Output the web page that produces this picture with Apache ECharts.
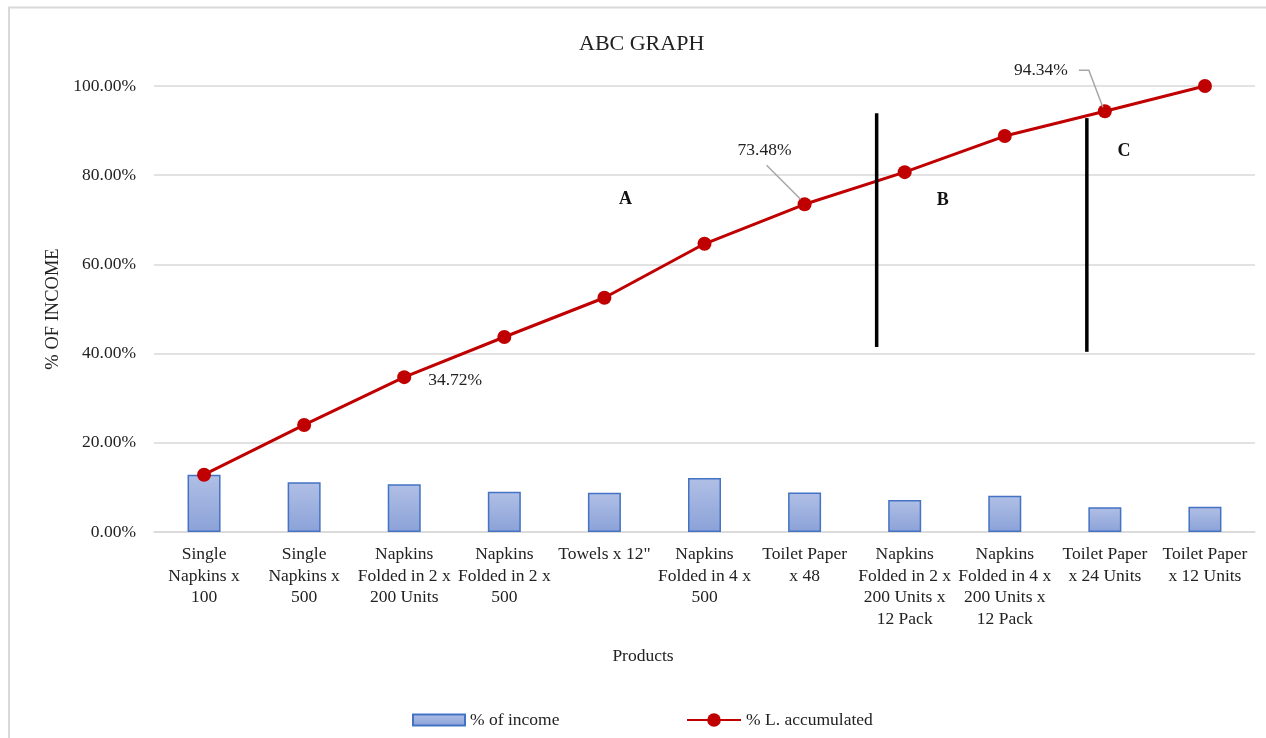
<!DOCTYPE html>
<html>
<head>
<meta charset="utf-8">
<style>
  html, body { margin: 0; padding: 0; background: #ffffff; }
  #chart { width: 1266px; height: 738px; }
</style>
<script src="https://cdn.jsdelivr.net/npm/echarts@6/dist/echarts.min.js"></script>
</head>
<body>
<div id="chart"></div>
<script>
// Product categories (ABC classification of income)
const products = [
  'Single\nNapkins x\n100',
  'Single\nNapkins x\n500',
  'Napkins\nFolded in 2 x\n200 Units',
  'Napkins\nFolded in 2 x\n500',
  'Towels x 12"',
  'Napkins\nFolded in 4 x\n500',
  'Toilet Paper\nx 48',
  'Napkins\nFolded in 2 x\n200 Units x\n12 Pack',
  'Napkins\nFolded in 4 x\n200 Units x\n12 Pack',
  'Toilet Paper\nx 24 Units',
  'Toilet Paper\nx 12 Units'
];

// Share of income per product (%)
const incomeShare = [12.85, 11.15, 10.72, 9.00, 8.80, 12.10, 8.86, 7.20, 8.10, 5.56, 5.66];

// Accumulated share (%)
const accumulated = [12.85, 24.00, 34.72, 43.72, 52.52, 64.62, 73.48, 80.68, 88.78, 94.34, 100.00];

// Points whose value is written on the chart
const labelledPoints = [2, 6, 9];

// Class boundaries: category position and vertical extent (% on the value axis)
const boundaries = [
  { pos: 6.72, from: 41.5, to: 93.9 },
  { pos: 8.82, from: 40.4, to: 92.8 }
];

// Class letters: category position and height (%)
const classLabels = [
  { text: 'A', pos: 4.21, val: 74.6 },
  { text: 'B', pos: 7.38, val: 74.4 },
  { text: 'C', pos: 9.19, val: 85.3 }
];

const serif = '"Liberation Serif", "DejaVu Serif", serif';
const fmt = v => v.toFixed(2) + '%';
const FS = 17.5;

const chart = echarts.init(document.getElementById('chart'), null, { renderer: 'canvas' });

const legendText = { fontFamily: serif, fontSize: FS, color: '#222' };

chart.setOption({
  backgroundColor: '#ffffff',
  animation: false,
  textStyle: { fontFamily: serif, color: '#222' },
  title: {
    text: 'ABC GRAPH',
    left: 574,
    top: 28,
    textStyle: { fontFamily: serif, fontSize: 22, fontWeight: 'normal', color: '#222' }
  },
  grid: { left: 154, right: 11, top: 86, bottom: 206 },
  legend: [
    {
      left: 407,
      top: 706,
      itemWidth: 52,
      itemHeight: 11,
      itemGap: 6,
      textStyle: legendText,
      data: [{ name: '% of income', icon: 'rect' }]
    },
    {
      left: 681,
      top: 706,
      itemWidth: 54,
      itemHeight: 17,
      textStyle: legendText,
      data: ['% L. accumulated']
    }
  ],
  xAxis: {
    type: 'category',
    data: products,
    axisLine: { lineStyle: { color: '#d9d9d9', width: 1.5 } },
    axisTick: { show: false },
    axisLabel: {
      interval: 0,
      margin: 12,
      fontFamily: serif,
      fontSize: FS,
      lineHeight: 21.5,
      color: '#222'
    }
  },
  yAxis: {
    type: 'value',
    min: 0,
    max: 100,
    interval: 20,
    name: '% OF INCOME',
    nameLocation: 'middle',
    nameGap: 80,
    nameRotate: 90,
    nameTextStyle: { fontFamily: serif, fontSize: 18.5, color: '#222' },
    axisLine: { show: false },
    axisTick: { show: false },
    splitLine: { lineStyle: { color: '#d9d9d9', width: 1.5 } },
    axisLabel: {
      formatter: v => fmt(v),
      margin: 18,
      fontFamily: serif,
      fontSize: FS,
      color: '#222'
    }
  },
  series: [
    {
      name: '% of income',
      type: 'bar',
      data: incomeShare,
      barWidth: 33,
      itemStyle: {
        color: new echarts.graphic.LinearGradient(0, 0, 0, 1, [
          { offset: 0, color: '#b0bfe5' },
          { offset: 1, color: '#8ba2d8' }
        ]),
        borderColor: '#4472c4',
        borderWidth: 1.5
      },
      z: 2
    },
    {
      name: '% L. accumulated',
      type: 'line',
      data: accumulated.map((v, i) => {
        const item = { value: v };
        if (labelledPoints.includes(i)) {
          item.label = {
            show: true,
            formatter: fmt(v),
            fontFamily: serif,
            fontSize: FS,
            color: '#222'
          };
          if (i === 2) { item.label.position = 'right'; item.label.offset = [12, 3]; }
          if (i === 6) { item.label.position = 'top'; item.label.offset = [-40, -33]; }
          if (i === 9) { item.label.position = 'top'; item.label.offset = [-64, -20]; }
        }
        return item;
      }),
      symbol: 'circle',
      symbolSize: 14,
      lineStyle: { color: '#c00000', width: 3 },
      itemStyle: { color: '#c00000' },
      z: 5
    }
  ]
});

// Annotations placed through the axes' scales
function placeAnnotations() {
  const toPx = (pos, val) => {
    const lo = Math.floor(pos), hi = Math.min(lo + 1, products.length - 1);
    const xLo = chart.convertToPixel({ xAxisIndex: 0 }, lo);
    const xHi = chart.convertToPixel({ xAxisIndex: 0 }, hi);
    const x = xLo + (xHi - xLo) * (pos - lo);
    const y = chart.convertToPixel({ yAxisIndex: 0 }, val);
    return [x, y];
  };
  const pt = i => [
    chart.convertToPixel({ xAxisIndex: 0 }, i),
    chart.convertToPixel({ yAxisIndex: 0 }, accumulated[i])
  ];

  const elements = [];

  // Outer frame
  elements.push({
    type: 'polyline',
    shape: { points: [[9, 738], [9, 7.5], [1266, 7.5]] },
    style: { stroke: '#d9d9d9', lineWidth: 2, fill: null },
    silent: true
  });

  // Category axis title, centred on the chart area
  elements.push({
    type: 'text',
    x: 643, y: 656,
    style: {
      text: 'Products',
      font: FS + 'px ' + serif,
      fill: '#222',
      align: 'center',
      verticalAlign: 'middle'
    },
    silent: true
  });

  boundaries.forEach(b => {
    const p1 = toPx(b.pos, b.to), p2 = toPx(b.pos, b.from);
    elements.push({
      type: 'line',
      shape: { x1: p1[0], y1: p1[1], x2: p2[0], y2: p2[1] },
      style: { stroke: '#000000', lineWidth: 3.5 },
      z: 10,
      silent: true
    });
  });

  classLabels.forEach(c => {
    const p = toPx(c.pos, c.val);
    elements.push({
      type: 'text',
      x: p[0], y: p[1],
      style: {
        text: c.text,
        font: 'bold 18px ' + serif,
        fill: '#111',
        align: 'center',
        verticalAlign: 'middle'
      },
      z: 10,
      silent: true
    });
  });

  // Leader lines for the labelled points
  const p6 = pt(6);
  elements.push({
    type: 'polyline',
    shape: { points: [[p6[0] - 38, p6[1] - 39], [p6[0] - 4, p6[1] - 5]] },
    style: { stroke: '#a6a6a6', lineWidth: 1.5, fill: null },
    z: 6, silent: true
  });
  const p9 = pt(9);
  elements.push({
    type: 'polyline',
    shape: { points: [[p9[0] - 26, p9[1] - 41], [p9[0] - 16, p9[1] - 41], [p9[0] - 2, p9[1] - 4]] },
    style: { stroke: '#a6a6a6', lineWidth: 1.5, fill: null },
    z: 6, silent: true
  });

  chart.setOption({ graphic: { elements } });
}

placeAnnotations();
</script>
</body>
</html>
